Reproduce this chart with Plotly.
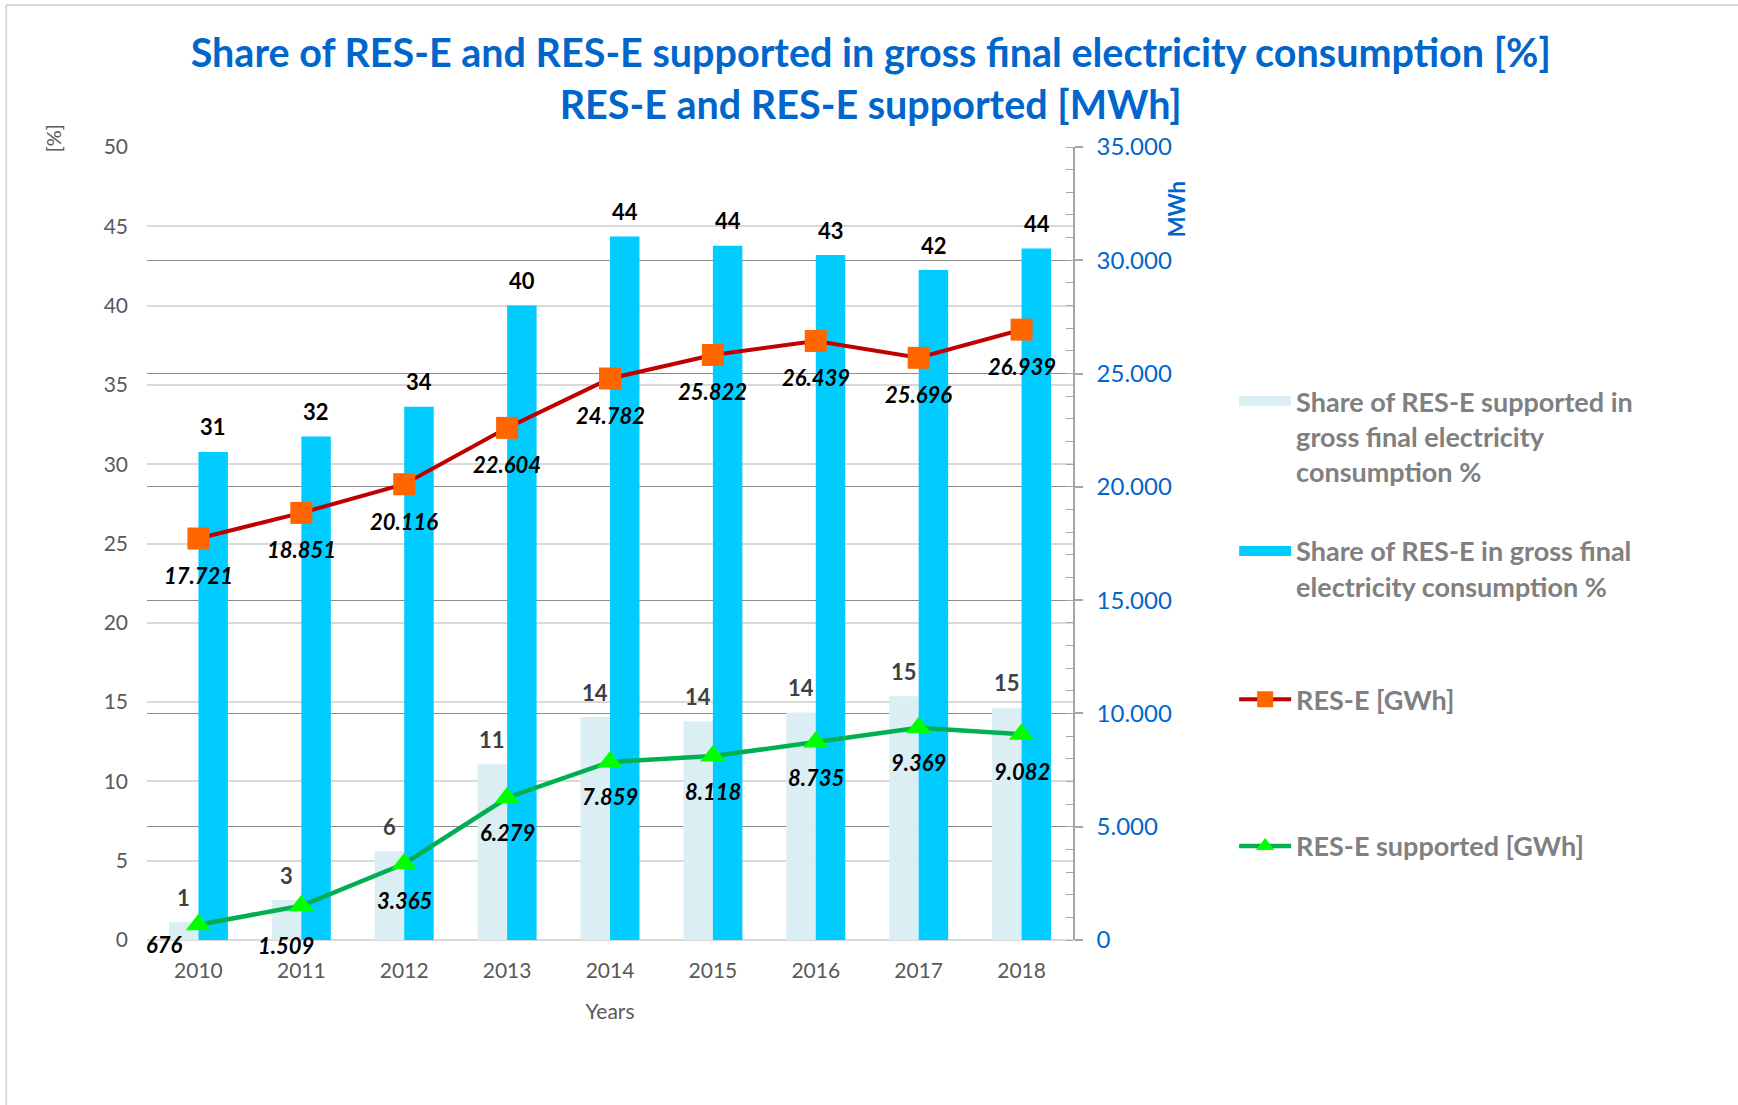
import plotly.graph_objects as go

years = ["2010", "2011", "2012", "2013", "2014", "2015", "2016", "2017", "2018"]
share_supported = [1.13, 2.52, 5.59, 11.08, 14.06, 13.79, 14.35, 15.37, 14.65]
share_rese = [30.77, 31.74, 33.63, 40.0, 44.35, 43.78, 43.19, 42.24, 43.6]
rese_gwh = [17721, 18851, 20116, 22604, 24782, 25822, 26439, 25696, 26939]
supported_gwh = [676, 1509, 3365, 6279, 7859, 8118, 8735, 9369, 9082]

title_lines = ["Share of RES-E and RES-E supported in gross final electricity consumption [%]",
               "RES-E and RES-E supported [MWh]"]
names = ["Share of RES-E supported in<br>gross final electricity<br>consumption %",
         "Share of RES-E in gross final<br>electricity consumption %",
         "RES-E [GWh]",
         "RES-E supported [GWh]"]

FONT = "Lato, Open Sans, sans-serif"
BLUE_TXT = "#0066CC"
GRAY_TXT = "#595959"
LIGHT_BAR = "#DAEEF3"
BLUE_BAR = "#00CCFF"

def fmt(v):
    return f"{v:,}".replace(",", ".")

fig = go.Figure()
fig.add_trace(go.Bar(x=years, y=share_supported, name=names[0], marker_color=LIGHT_BAR,
                     marker_line_width=0, showlegend=False))
fig.add_trace(go.Bar(x=years, y=share_rese, name=names[1], marker_color=BLUE_BAR,
                     marker_line_width=0, showlegend=False))
# legend keys for the bar series (wide rectangles as in the reference)
fig.add_trace(go.Scatter(x=[None], y=[None], name=names[0], mode="lines",
                         line=dict(color=LIGHT_BAR, width=16), legend="legend", hoverinfo="skip"))
fig.add_trace(go.Scatter(x=[None], y=[None], name=names[1], mode="lines",
                         line=dict(color=BLUE_BAR, width=16), legend="legend2", hoverinfo="skip"))
fig.add_trace(go.Scatter(x=years, y=rese_gwh, name=names[2], yaxis="y2", mode="lines+markers",
                         line=dict(color="#C00000", width=4),
                         marker=dict(symbol="square", size=22, color="#FF6600"),
                         legend="legend3"))
fig.add_trace(go.Scatter(x=years, y=supported_gwh, name=names[3], yaxis="y2", mode="lines+markers",
                         line=dict(color="#00B050", width=4.5),
                         marker=dict(symbol="triangle-up", size=22, color="#00FF00"),
                         legend="legend4"))

ann = []
for i, v in enumerate(share_supported):
    ann.append(dict(x=i, y=v, xref="x", yref="y", text=f"<b>{round(v)}</b>", showarrow=False,
                    xanchor="center", yanchor="middle",
                    xshift=-15, yshift=25, font=dict(size=22, color="#404040", family=FONT)))
for i, v in enumerate(share_rese):
    ann.append(dict(x=i, y=v, xref="x", yref="y", text=f"<b>{round(v)}</b>", showarrow=False,
                    xanchor="center", yanchor="middle",
                    xshift=15, yshift=25, font=dict(size=22, color="#000000", family=FONT)))
for i, v in enumerate(rese_gwh):
    ann.append(dict(x=i, y=v, xref="x", yref="y2", text=f"<b><i>{fmt(v)}</i></b>", showarrow=False,
                    xanchor="center", yanchor="middle",
                    yshift=-37, font=dict(size=22, color="#000000", family=FONT)))
sup_shift = [(-34, -20), (-15, -40), (0, -37), (0, -35), (0, -35), (0, -35), (0, -35), (0, -35), (0, -37)]
for i, (v, (dx, dy)) in enumerate(zip(supported_gwh, sup_shift)):
    ann.append(dict(x=i, y=v, xref="x", yref="y2", text=f"<b><i>{fmt(v)}</i></b>", showarrow=False,
                    xanchor="center", yanchor="middle",
                    xshift=dx, yshift=dy, font=dict(size=22, color="#000000", family=FONT)))
ann.append(dict(x=-0.1015, y=1.011, xref="paper", yref="paper", text="[%]", textangle=-90,
                xanchor="center", yanchor="middle",
                showarrow=False, font=dict(size=20, color=GRAY_TXT, family=FONT)))
ann.append(dict(x=1.112, y=0.921, xref="paper", yref="paper", text="<b>MWh</b>", textangle=-90,
                xanchor="center", yanchor="middle",
                showarrow=False, font=dict(size=22, color=BLUE_TXT, family=FONT)))

legend_common = dict(xanchor="left", yanchor="top", valign="top", bgcolor="rgba(0,0,0,0)",
                     font=dict(size=27, color="#808080", family=FONT, weight="bold"),
                     itemwidth=52)

fig.update_layout(
    width=1738, height=1105,
    margin=dict(l=147, r=665, t=147, b=165),
    paper_bgcolor="white", plot_bgcolor="white",
    separators=",.",
    font=dict(family=FONT, color=GRAY_TXT),
    title=dict(text="<b>" + "<br>".join(title_lines) + "</b>", x=0.501, xref="container", xanchor="center",
               y=0.939, yanchor="middle", yref="container",
               font=dict(size=39.5, color=BLUE_TXT, family=FONT)),
    barmode="group", bargap=0.427, bargroupgap=0,
    xaxis=dict(type="category", range=[-0.5, 8.5], showgrid=False, showline=False, ticks="",
               tickfont=dict(size=21, color=GRAY_TXT), ticklabelstandoff=16,
               title=dict(text="Years", font=dict(size=21, color=GRAY_TXT), standoff=23)),
    yaxis=dict(range=[0, 50], dtick=5, showgrid=True, gridcolor="#D9D9D9", gridwidth=1.5,
               zeroline=True, zerolinecolor="#D9D9D9", zerolinewidth=2, showline=False, ticks="",
               tickfont=dict(size=21, color=GRAY_TXT), ticklabelstandoff=18),
    yaxis2=dict(range=[0, 35000], dtick=5000, overlaying="y", side="right", tickformat=",",
                showgrid=True, gridcolor="#8C8C8C", gridwidth=1, zeroline=False,
                showline=True, linecolor="#A6A6A6", linewidth=1.5,
                ticks="outside", ticklen=8, tickcolor="#A6A6A6", tickwidth=1.5,
                minor=dict(dtick=1000, ticks="inside", ticklen=7, tickcolor="#A6A6A6", tickwidth=1.2, showgrid=False),
                tickfont=dict(size=24, color=BLUE_TXT), ticklabelstandoff=9),
    legend=dict(x=1.174, y=0.71, **legend_common),
    legend2=dict(x=1.174, y=0.521, **legend_common),
    legend3=dict(x=1.174, y=0.334, **legend_common),
    legend4=dict(x=1.174, y=0.149, **legend_common),
    annotations=ann,
    shapes=[
        dict(type="line", xref="paper", yref="paper", x0=-0.152, x1=1.72, y0=1.179, y1=1.179,
             line=dict(color="#D9D9D9", width=2)),
        dict(type="line", xref="paper", yref="paper", x0=-0.152, x1=-0.152, y0=1.179, y1=-0.21,
             line=dict(color="#D9D9D9", width=2)),
    ],
    showlegend=True,
)

fig.write_html("out.html", config={"displayModeBar": False},
               post_script="document.body.style.margin='0';")
